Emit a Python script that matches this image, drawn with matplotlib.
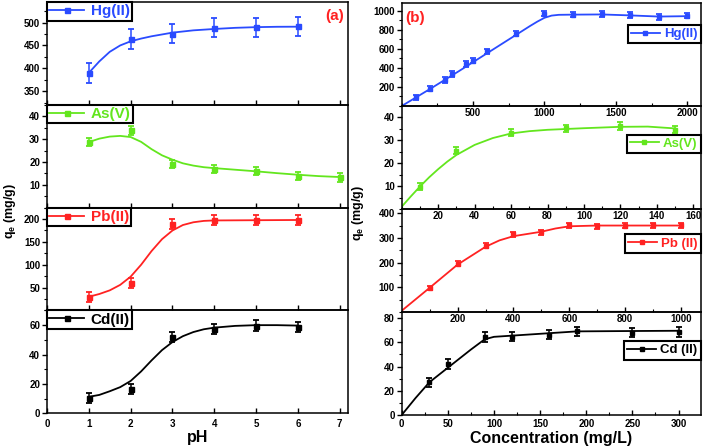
import matplotlib
matplotlib.use("Agg")
import matplotlib.pyplot as plt
from matplotlib.lines import Line2D
from matplotlib.ticker import MultipleLocator

plt.rcParams['font.family'] = ['Liberation Sans', 'DejaVu Sans']
plt.rcParams['font.weight'] = 'bold'
plt.rcParams['mathtext.fontset'] = 'custom'
plt.rcParams['mathtext.bf'] = 'Liberation Sans:bold'
plt.rcParams['mathtext.rm'] = 'Liberation Sans:bold'

BLUE = '#2a4bff'
GREEN = '#63e61e'
RED = '#ff2222'
BLACK = '#000000'

# (a) effect of pH
ph = [1, 2, 3, 4, 5, 6]
ph_as = [1, 2, 3, 4, 5, 6, 7]

hg_ph = [390, 465, 476, 489, 490, 492]
hg_ph_err = [22, 22, 21, 21, 21, 21]
as_ph = [28.7, 33.8, 19.2, 17.0, 15.9, 13.9, 13.2]
as_ph_err = [1.8, 1.8, 1.8, 1.8, 1.8, 1.8, 1.8]
pb_ph = [29, 60, 189, 197, 197, 198]
pb_ph_err = [11, 11, 11, 11, 11, 11]
cd_ph = [10.5, 16.5, 52, 57.6, 59.7, 58.8]
cd_ph_err = [3.5, 3.5, 3.5, 3.5, 3.5, 3.5]

# fitted curves
hg_ph_fit_x = [1.0, 1.25, 1.5, 1.75, 2.0, 2.25, 2.5, 2.75, 3.0, 3.5, 4.0, 4.5, 5.0, 5.5, 6.0]
hg_ph_fit_y = [390, 415, 436, 450, 459, 465, 470, 474, 478, 483, 486, 488.5, 490, 490.8, 491]
as_ph_fit_x = [1.0, 1.25, 1.5, 1.75, 2.0, 2.25, 2.5, 2.75, 3.0, 3.25, 3.5, 3.75, 4.0, 4.5, 5.0, 5.5, 6.0, 6.5, 7.0]
as_ph_fit_y = [28.7, 30.2, 31.1, 31.4, 30.9, 28.8, 25.6, 22.9, 21.0, 19.4, 18.4, 17.7, 17.3, 16.6, 15.9, 15.1, 14.4, 13.8, 13.4]
pb_ph_fit_x = [1.0, 1.25, 1.5, 1.75, 2.0, 2.25, 2.5, 2.75, 3.0, 3.25, 3.5, 3.75, 4.0, 5.0, 6.0]
pb_ph_fit_y = [30, 36, 44, 56, 74, 100, 130, 156, 175, 187, 193, 196, 197, 197.5, 198]
cd_ph_fit_x = [1.0, 1.25, 1.5, 1.75, 2.0, 2.25, 2.5, 2.75, 3.0, 3.25, 3.5, 3.75, 4.0, 4.5, 5.0, 5.5, 6.0]
cd_ph_fit_y = [11.2, 12.5, 15, 17.8, 22, 28.5, 36, 43, 48.5, 52.5, 55.3, 57.2, 58.3, 59.5, 60, 60, 59.7]

# (b) effect of concentration
hg_c = [100, 200, 300, 350, 450, 500, 600, 800, 1000, 1200, 1400, 1600, 1800, 2000]
hg_q = [90, 183, 269, 338, 441, 476, 572, 759, 969, 959, 965, 952, 934, 948]
hg_q_err = [30] * 14
as_c = [10, 30, 60, 90, 120, 150]
as_q = [9.7, 25.5, 33.4, 35.2, 36.2, 34.6]
as_q_err = [1.6] * 6
pb_c = [100, 200, 300, 400, 500, 600, 700, 800, 900, 1000]
pb_q = [97, 195, 268, 315, 323, 351, 347, 350, 351, 351]
pb_q_err = [10] * 10
cd_c = [30, 50, 90, 120, 160, 190, 250, 300]
cd_q = [26.9, 42.2, 64.4, 64.7, 66.4, 68.9, 68, 68.6]
cd_q_err = [4] * 8

hg_c_fit_x = [0, 100, 200, 400, 600, 800, 900, 950, 1000, 1050, 1100, 1200, 1400, 1600, 1800, 2000]
hg_c_fit_y = [0, 90, 180, 365, 555, 745, 840, 885, 925, 948, 956, 958, 960, 950, 938, 942]
as_c_fit_x = [0, 5, 10, 15, 20, 25, 30, 40, 50, 60, 70, 80, 100, 120, 135, 150]
as_c_fit_y = [1, 5.5, 9.8, 13.8, 17.4, 20.7, 23.6, 28, 31, 33, 34, 34.6, 35.3, 35.9, 36, 35.2]
pb_c_fit_x = [0, 100, 200, 300, 350, 400, 450, 500, 550, 600, 700, 800, 1000]
pb_c_fit_y = [5, 98, 192, 264, 290, 307, 316, 325, 338, 347, 350, 350, 350]
cd_c_fit_x = [0, 15, 30, 50, 60, 75, 90, 100, 120, 150, 190, 250, 300]
cd_c_fit_y = [0, 14, 27, 39, 45, 54, 62.5, 64.5, 65.5, 67, 69, 69.3, 69.5]


def panel(ax, x, y, err, fx, fy, color, label, ms):
    ax.set_facecolor('none')
    ax.plot(fx, fy, color=color, lw=1.3, zorder=2)
    ax.errorbar(x, y, yerr=err, fmt='s', color=color, ms=ms, elinewidth=1.1,
                capsize=2.3, capthick=1.3, zorder=3)
    for s in ax.spines.values():
        s.set_linewidth(1.1)
    ax.tick_params(axis='x', which='both', direction='in', labelsize=7)
    ax.tick_params(axis='y', which='both', direction='out', labelsize=7, pad=1.5)
    ax.tick_params(which='major', length=3.5, width=1)
    ax.tick_params(which='minor', length=2, width=0.8)
    handle = Line2D([], [], color=color, marker='s', lw=1.3, ms=ms)
    return handle


def left_legend(ax, handle, label):
    leg = ax.legend([handle], [label], loc='upper left', bbox_to_anchor=(0, 1),
                    borderaxespad=0, fancybox=False, edgecolor='k', framealpha=1,
                    handlelength=2.3, handletextpad=0.4, borderpad=0.15,
                    labelcolor='linecolor', prop={'weight': 'bold', 'size': 11})
    leg.get_frame().set_linewidth(1.5)


def right_legend(ax, handle, label, top):
    leg = ax.legend([handle], [label], loc='upper right', bbox_to_anchor=(1, top),
                    borderaxespad=0, fancybox=False, edgecolor='k', framealpha=1,
                    handlelength=2.2, handletextpad=0.3, borderpad=0.25,
                    labelcolor='linecolor', prop={'weight': 'bold', 'size': 9.5})
    leg.get_frame().set_linewidth(1.5)


fig = plt.figure(figsize=(7.04, 4.48), dpi=100)

# left column: (a)
lx, lw = 0.0668, 0.4276
lh = 0.2295
lb = 0.0775
axes_a = [fig.add_axes([lx, lb + (3 - i) * lh, lw, lh]) for i in range(4)]

h = panel(axes_a[0], ph, hg_ph, hg_ph_err, hg_ph_fit_x, hg_ph_fit_y, BLUE, 'Hg(II)', 3.6)
axes_a[0].set_ylim(320, 545)
axes_a[0].set_yticks([350, 400, 450, 500])
axes_a[0].yaxis.set_minor_locator(MultipleLocator(25))
left_legend(axes_a[0], h, 'Hg(II)')
axes_a[0].text(0.955, 0.86, '(a)', color=RED, fontsize=11, fontweight='bold',
               ha='center', va='center', transform=axes_a[0].transAxes)

h = panel(axes_a[1], ph_as, as_ph, as_ph_err, as_ph_fit_x, as_ph_fit_y, GREEN, 'As(V)', 3.6)
axes_a[1].set_ylim(0, 45)
axes_a[1].set_yticks([10, 20, 30, 40])
axes_a[1].yaxis.set_minor_locator(MultipleLocator(5))
left_legend(axes_a[1], h, 'As(V)')

h = panel(axes_a[2], ph, pb_ph, pb_ph_err, pb_ph_fit_x, pb_ph_fit_y, RED, 'Pb(II)', 3.6)
axes_a[2].set_ylim(0, 225)
axes_a[2].set_yticks([50, 100, 150, 200])
axes_a[2].yaxis.set_minor_locator(MultipleLocator(25))
left_legend(axes_a[2], h, 'Pb(II)')

h = panel(axes_a[3], ph, cd_ph, cd_ph_err, cd_ph_fit_x, cd_ph_fit_y, BLACK, 'Cd(II)', 3.6)
axes_a[3].set_ylim(0, 70)
axes_a[3].set_yticks([0, 20, 40, 60])
axes_a[3].yaxis.set_minor_locator(MultipleLocator(10))
left_legend(axes_a[3], h, 'Cd(II)')

for i, ax in enumerate(axes_a):
    ax.set_xlim(0, 7.2)
    ax.set_xticks(range(0, 8))
    if i < 3:
        ax.tick_params(axis='x', labelbottom=False)
    else:
        ax.tick_params(axis='x', pad=4)
axes_a[3].set_xlabel('pH', fontsize=11.5, fontweight='bold', labelpad=1)

# right column: (b)
rx, rw = 0.5706, 0.4247
rh = 0.2299
rb = 0.0737
axes_b = [fig.add_axes([rx, rb + (3 - i) * rh, rw, rh]) for i in range(4)]

h = panel(axes_b[0], hg_c, hg_q, hg_q_err, hg_c_fit_x, hg_c_fit_y, BLUE, 'Hg(II)', 2.6)
axes_b[0].set_xlim(0, 2094)
axes_b[0].set_ylim(0, 1080)
axes_b[0].set_xticks([500, 1000, 1500, 2000])
axes_b[0].xaxis.set_minor_locator(MultipleLocator(250))
axes_b[0].set_yticks([200, 400, 600, 800, 1000])
axes_b[0].yaxis.set_minor_locator(MultipleLocator(100))
right_legend(axes_b[0], h, 'Hg(II)', 0.79)
axes_b[0].text(0.045, 0.85, '(b)', color=RED, fontsize=11, fontweight='bold',
               ha='center', va='center', transform=axes_b[0].transAxes)

h = panel(axes_b[1], as_c, as_q, as_q_err, as_c_fit_x, as_c_fit_y, GREEN, 'As(V)', 2.6)
axes_b[1].set_xlim(0, 164)
axes_b[1].set_ylim(0, 45)
axes_b[1].set_xticks(range(20, 161, 20))
axes_b[1].xaxis.set_minor_locator(MultipleLocator(10))
axes_b[1].set_yticks([10, 20, 30, 40])
axes_b[1].yaxis.set_minor_locator(MultipleLocator(5))
right_legend(axes_b[1], h, 'As(V)', 0.723)

h = panel(axes_b[2], pb_c, pb_q, pb_q_err, pb_c_fit_x, pb_c_fit_y, RED, 'Pb (II)', 2.6)
axes_b[2].set_xlim(0, 1070)
axes_b[2].set_ylim(0, 417)
axes_b[2].set_xticks([200, 400, 600, 800, 1000])
axes_b[2].xaxis.set_minor_locator(MultipleLocator(100))
axes_b[2].set_yticks([100, 200, 300, 400])
axes_b[2].yaxis.set_minor_locator(MultipleLocator(50))
right_legend(axes_b[2], h, 'Pb (II)', 0.757)

h = panel(axes_b[3], cd_c, cd_q, cd_q_err, cd_c_fit_x, cd_c_fit_y, BLACK, 'Cd (II)', 2.6)
axes_b[3].set_xlim(0, 324)
axes_b[3].set_ylim(0, 85)
axes_b[3].set_xticks(range(0, 301, 50))
axes_b[3].xaxis.set_minor_locator(MultipleLocator(25))
axes_b[3].set_yticks([0, 20, 40, 60, 80])
axes_b[3].yaxis.set_minor_locator(MultipleLocator(10))
right_legend(axes_b[3], h, 'Cd (II)', 0.72)

for i, ax in enumerate(axes_b):
    ax.tick_params(axis='x', pad=1.5 if i < 3 else 3)
axes_b[3].set_xlabel('Concentration (mg/L)', fontsize=11.5, fontweight='bold', labelpad=1)

# shared y labels
fig.text(0.014, 0.53, r'q$_\mathbf{e}$ (mg/g)', rotation=90, fontsize=9,
         fontweight='bold', ha='center', va='center')
fig.text(0.508, 0.525, r'q$_\mathbf{e}$ (mg/g)', rotation=90, fontsize=9,
         fontweight='bold', ha='center', va='center')

fig.savefig('out.png', dpi=100)
